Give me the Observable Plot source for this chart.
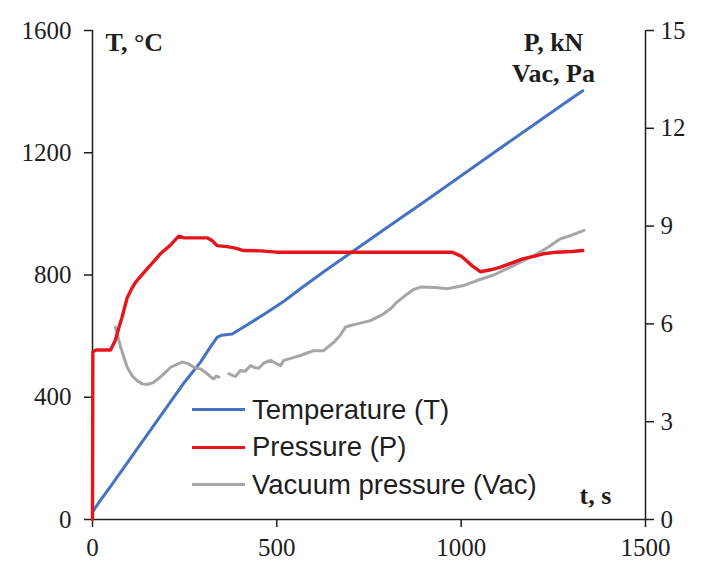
<!DOCTYPE html>
<html>
<head>
<meta charset="utf-8">
<script src="https://cdn.jsdelivr.net/npm/d3@7"></script>
<script src="https://cdn.jsdelivr.net/npm/@observablehq/plot@0.6"></script>
<style>
  html, body { margin: 0; padding: 0; background: #fff; }
  #wrap { position: relative; width: 701px; height: 568px; }
  #legend { position: absolute; left: 192px; top: 391px; font-family: "Liberation Sans", Arial, sans-serif; font-size: 27.5px; color: #1e1e1e; }
  .row { display: flex; align-items: center; height: 37.5px; white-space: nowrap; }
  .sw { width: 53px; height: 3px; margin-right: 7px; }
</style>
</head>
<body>
<div id="wrap"><div id="legend"></div></div>
<script>
// ---- Data ----
const seriesNames = ["Temperature (T)", "Pressure (P)", "Vacuum pressure (Vac)"];
const seriesColors = ["#4472C4", "#E3161B", "#A6A6A6"];

// Temperature, °C (left axis): [t (s), T]
const temperature = [
  [0, 25], [20, 60], [50, 110], [100, 195], [150, 280], [200, 365], [250, 450],
  [293, 515], [320, 565], [338, 596], [350, 603], [379, 607], [420, 637],
  [474, 678], [520, 715], [564, 755], [632, 815], [700, 872], [800, 956],
  [900, 1040], [1000, 1125], [1100, 1210], [1200, 1294], [1300, 1378], [1330, 1403]
];

// Pressure, kN (right axis): [t (s), P]
const pressure = [
  [0, 0], [1, 5.15], [10, 5.2], [49, 5.2], [62, 5.5], [72, 5.9], [80, 6.2],
  [94, 6.8], [105, 7.05], [117, 7.28], [130, 7.45], [148, 7.69], [165, 7.9],
  [184, 8.15], [210, 8.4], [234, 8.69], [248, 8.64], [311, 8.64], [325, 8.55],
  [338, 8.40], [365, 8.37], [385, 8.33], [410, 8.25], [456, 8.24], [500, 8.2],
  [600, 8.2], [700, 8.2], [800, 8.2], [900, 8.2], [975, 8.2], [1000, 8.08],
  [1030, 7.78], [1052, 7.6], [1080, 7.66], [1107, 7.74], [1140, 7.88],
  [1169, 8.0], [1200, 8.08], [1223, 8.15], [1260, 8.2], [1300, 8.22], [1330, 8.25]
];

// Vacuum pressure, Pa (right axis): [t (s), Vac]; null = gap in record
const vacuum = [
  [62, 5.9], [76, 5.3], [94, 4.67], [108, 4.4], [121, 4.26], [135, 4.16], [148, 4.14],
  [165, 4.2], [184, 4.37], [212, 4.67], [243, 4.83], [260, 4.78], [275, 4.67],
  [293, 4.62], [306, 4.52], [320, 4.38], [329, 4.31], [336, 4.4], [343, 4.37],
  [355, null],
  [370, 4.47], [379, 4.42], [388, 4.39], [401, 4.57], [414, 4.55], [429, 4.72],
  [440, 4.66], [451, 4.64], [465, 4.8], [483, 4.88], [496, 4.8], [510, 4.72],
  [519, 4.88], [540, 4.95], [564, 5.03], [580, 5.1], [600, 5.18], [627, 5.18],
  [655, 5.44], [672, 5.65], [686, 5.9], [700, 5.95], [718, 6.0], [754, 6.1],
  [790, 6.31], [810, 6.48], [826, 6.67], [854, 6.92], [870, 7.05], [890, 7.13],
  [930, 7.12], [962, 7.08], [1007, 7.18], [1043, 7.33], [1088, 7.5],
  [1134, 7.74], [1170, 7.95], [1206, 8.15], [1240, 8.38], [1269, 8.61],
  [1300, 8.72], [1333, 8.87]
];

const xTicks = [0, 500, 1000, 1500];
const yLeftTicks = [0, 400, 800, 1200, 1600];
const yRightTicks = [0, 3, 6, 9, 12, 15];

// ---- Chart ----
const k = 1600 / 15; // right-axis units -> left-axis scale units
const rows = a => a.map(([t, v]) => ({t, v}));
const yR = d => (d.v == null ? NaN : d.v * k);
const axisColor = "#1e1e1e";
const plain = d => String(d);

const chart = Plot.plot({
  width: 701,
  height: 568,
  marginLeft: 92,
  marginRight: 56,
  marginTop: 30,
  marginBottom: 49,
  x: {domain: [0, 1500]},
  y: {domain: [0, 1600]},
  style: {fontFamily: "'Liberation Serif', 'Times New Roman', serif", fontSize: "25px", color: axisColor, background: "#fff", overflow: "visible"},
  marks: [
    Plot.axisX(xTicks, {tickSize: 8, tickPadding: 11, label: null, strokeWidth: 1.5, tickFormat: plain}),
    Plot.axisY(yLeftTicks, {anchor: "left", tickSize: 8, tickPadding: 13, label: null, strokeWidth: 1.5, tickFormat: plain}),
    Plot.axisY(yRightTicks.map(v => v * k), {anchor: "right", tickSize: 8, tickPadding: 7, label: null, strokeWidth: 1.5,
      tickFormat: d => String(Math.round(d / k))}),
    Plot.ruleX([0, 1500], {stroke: axisColor, strokeWidth: 1.5}),
    Plot.ruleY([0], {stroke: axisColor, strokeWidth: 1.5}),
    Plot.line(rows(temperature), {x: "t", y: "v", stroke: seriesColors[0], strokeWidth: 3, strokeLinejoin: "round"}),
    Plot.line(rows(vacuum), {x: "t", y: yR, stroke: seriesColors[2], strokeWidth: 3, strokeLinejoin: "round"}),
    Plot.line(rows(pressure), {x: "t", y: yR, stroke: seriesColors[1], strokeWidth: 3.4, strokeLinejoin: "round"}),
    Plot.text(["T, °C"], {text: d => d, frameAnchor: "top-left", dx: 13, dy: 2, textAnchor: "start", lineAnchor: "top",
      fontWeight: "bold", fontSize: 26, fill: axisColor}),
    Plot.text(["P, kN\nVac, Pa"], {text: d => d, frameAnchor: "top-right", dx: -92, dy: -2, textAnchor: "middle", lineAnchor: "top",
      lineHeight: 1.2, fontWeight: "bold", fontSize: 26, fill: axisColor}),
    Plot.text(["t, s"], {text: d => d, frameAnchor: "bottom-right", dx: -50, dy: -16, textAnchor: "middle", lineAnchor: "bottom",
      fontWeight: "bold", fontSize: 26, fill: axisColor})
  ]
});
document.getElementById("wrap").prepend(chart);

// ---- Legend (inside plot area) ----
const legend = document.getElementById("legend");
seriesNames.forEach((name, i) => {
  const row = document.createElement("div");
  row.className = "row";
  const sw = document.createElement("span");
  sw.className = "sw";
  sw.style.background = seriesColors[i];
  const tx = document.createElement("span");
  tx.textContent = name;
  row.append(sw, tx);
  legend.append(row);
});
</script>
</body>
</html>
